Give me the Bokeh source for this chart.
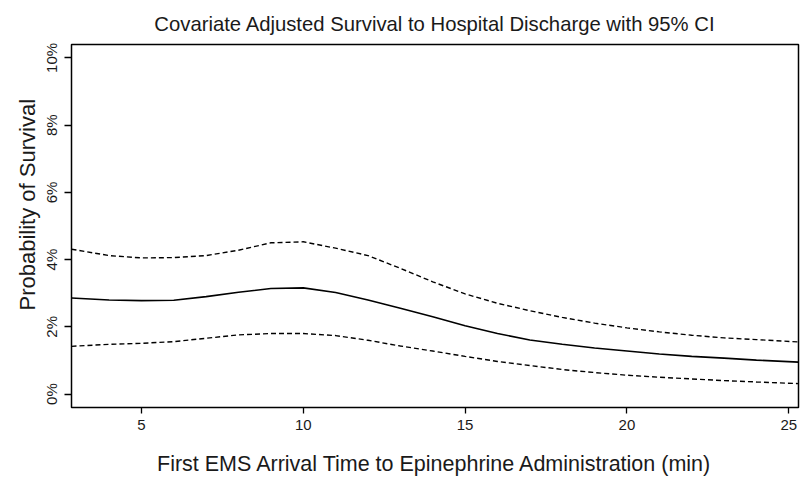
from bokeh.plotting import figure
from bokeh.models import FixedTicker, Range1d, ColumnDataSource, Title
from bokeh.embed import file_html
from bokeh.resources import INLINE

# Data
minutes = [2.84, 4, 5, 6, 7, 8, 9, 10, 11, 12, 13, 14, 15, 16, 17, 18, 19, 20, 21, 22, 23, 24, 25.3]
estimate = [2.86, 2.80, 2.78, 2.79, 2.90, 3.03, 3.14, 3.16, 3.02, 2.80, 2.55, 2.30, 2.03, 1.80, 1.61,
            1.48, 1.37, 1.28, 1.19, 1.12, 1.07, 1.01, 0.95]
upper_ci = [4.31, 4.12, 4.05, 4.06, 4.12, 4.28, 4.50, 4.53, 4.34, 4.12, 3.74, 3.34, 2.98, 2.70, 2.48,
            2.28, 2.11, 1.97, 1.85, 1.75, 1.67, 1.62, 1.55]
lower_ci = [1.42, 1.48, 1.51, 1.56, 1.66, 1.76, 1.80, 1.80, 1.74, 1.60, 1.43, 1.28, 1.12, 0.97, 0.85,
            0.73, 0.64, 0.56, 0.50, 0.45, 0.40, 0.36, 0.31]

x_ticks = [5, 10, 15, 20, 25]
y_ticks = [0, 2, 4, 6, 8, 10]
y_tick_labels = ["0%", "2%", "4%", "6%", "8%", "10%"]

title_text = "Covariate Adjusted Survival to Hospital Discharge with 95% CI"
x_label = "First EMS Arrival Time to Epinephrine Administration (min)"
y_label = "Probability of Survival"

FONT = "Liberation Sans"
TXT = "#1a1a1a"

X_START, X_END = 2.84, 25.3

src = ColumnDataSource(dict(x=minutes, est=estimate, up=upper_ci, lo=lower_ci))

p = figure(width=800, height=483, output_backend="svg", toolbar_location=None,
           x_range=Range1d(X_START, X_END), y_range=Range1d(-0.4, 10.4),
           min_border_left=71, min_border_top=43, min_border_bottom=76, min_border_right=2,
           title=title_text)

p.line("x", "est", source=src, line_color="black", line_width=1.6)
p.line("x", "up", source=src, line_color="black", line_width=1.4, line_dash="5 3")
p.line("x", "lo", source=src, line_color="black", line_width=1.4, line_dash="5 3")

p.title.align = "center"
p.title.text_font = FONT
p.title.text_font_size = "20.3px"
p.title.text_font_style = "normal"
p.title.text_color = TXT
p.title.standoff = 20

p.outline_line_color = "black"
p.outline_line_width = 1.5
p.xgrid.visible = False
p.ygrid.visible = False
p.background_fill_color = "white"
p.border_fill_color = "white"

xa = p.xaxis[0]
xa.ticker = FixedTicker(ticks=x_ticks)
xa.axis_line_color = None
xa.major_tick_line_color = "black"
xa.major_tick_line_width = 1.3
xa.major_tick_out = 6
xa.major_tick_in = 0
xa.minor_tick_line_color = None
xa.major_label_text_font = FONT
xa.major_label_text_font_size = "15px"
xa.major_label_text_color = TXT
xa.major_label_standoff = 6
xa.axis_label = x_label
xa.axis_label_text_font = FONT
xa.axis_label_text_font_size = "21.5px"
xa.axis_label_text_font_style = "normal"
xa.axis_label_text_color = TXT
xa.axis_label_standoff = 19

ya = p.yaxis[0]
ya.ticker = FixedTicker(ticks=y_ticks)
ya.major_label_overrides = {t: l for t, l in zip(y_ticks, y_tick_labels)}
ya.major_label_orientation = "vertical"
ya.axis_line_color = None
ya.major_tick_line_color = "black"
ya.major_tick_line_width = 1.3
ya.major_tick_out = 7
ya.major_tick_in = 0
ya.minor_tick_line_color = None
ya.major_label_text_font = FONT
ya.major_label_text_font_size = "15px"
ya.major_label_text_color = TXT
ya.major_label_standoff = 4

# y-axis title as a left-side title, placed a little above centre as in the reference
ytitle = Title(text=y_label, align="left", offset=97, text_font=FONT,
               text_font_size="22px", text_font_style="normal", text_color=TXT, standoff=2)
p.add_layout(ytitle, "left")

open("out.html", "w").write(file_html(p, INLINE))
